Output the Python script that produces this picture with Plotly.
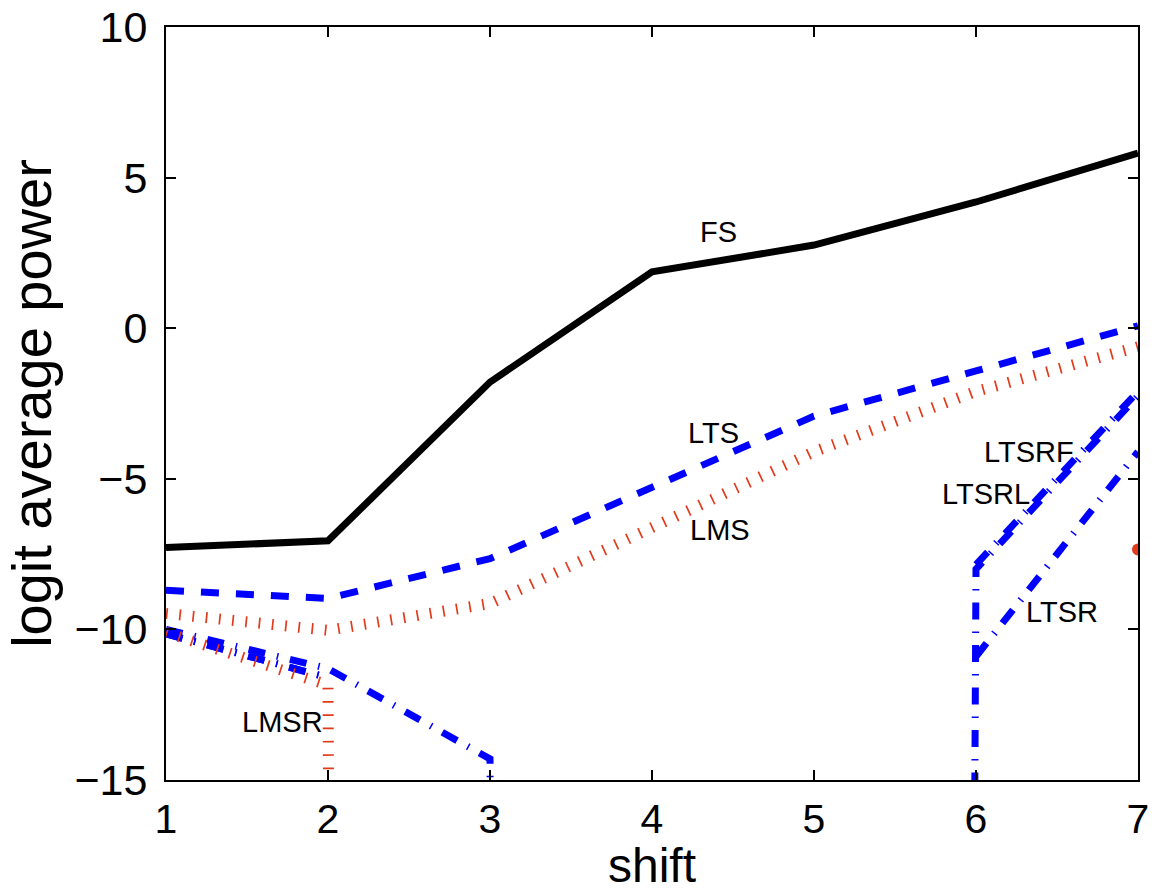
import plotly.graph_objects as go

# ---- data ----
shift = [1, 2, 3, 4, 5, 6, 7]
NEG = -1000  # stands for logit(0) = -inf (drawn off the bottom of the axes)

fs = [-7.28, -7.06, -1.79, 1.87, 2.76, 4.19, 5.81]
lts = [-8.7, -8.97, -7.65, -5.27, -2.92, -1.42, 0.08]
lms = [-9.47, -10.03, -9.14, -6.65, -4.1, -2.1, -0.62]
lmsr = [-10.1, -11.85, NEG, None, None, None, -7.35]
ltsr = [-10.0, -11.3, -14.3, NEG, None, -10.9, -4.1]
ltsrl = [-10.15, -11.6, None, None, NEG, -8.0, -2.25]
ltsrf = [-10.15, -11.6, None, None, None, -7.85, -2.1]

labels = ["FS", "LTS", "LMS", "LMSR", "LTSRF", "LTSRL", "LTSR"]
label_x = [4.41, 4.38, 4.42, 1.72, 6.33, 6.06, 6.53]
label_y = [3.19, -3.49, -6.71, -13.09, -4.12, -5.51, -9.43]

xticks = [1, 2, 3, 4, 5, 6, 7]
yticks = [-15, -10, -5, 0, 5, 10]

BLUE = "#0000ff"
RED = "#e23a1a"
DASHDOT = "17px,12px,1.5px,12px"
DOTTED = "1.7px,11.6px"
FONT = "Liberation Sans, Arial, sans-serif"

fig = go.Figure()
fig.add_trace(go.Scatter(x=shift, y=fs, mode="lines", line=dict(color="black", width=7), name="FS"))
fig.add_trace(go.Scatter(x=shift, y=lts, mode="lines", line=dict(color=BLUE, width=7, dash="18px,17px"), name="LTS"))
for name, ys in [("LTSRF", ltsrf), ("LTSRL", ltsrl), ("LTSR", ltsr)]:
    fig.add_trace(go.Scatter(x=shift, y=ys, mode="lines", connectgaps=False,
                             line=dict(color=BLUE, width=7, dash=DASHDOT), name=name))
fig.add_trace(go.Scatter(x=shift, y=lms, mode="lines", line=dict(color=RED, width=11, dash=DOTTED), name="LMS"))
fig.add_trace(go.Scatter(x=shift, y=lmsr, mode="lines", connectgaps=False,
                         line=dict(color=RED, width=11, dash=DOTTED), name="LMSR"))
# isolated LMSR value at the last shift
fig.add_trace(go.Scatter(x=[shift[-1]], y=[lmsr[-1]], mode="markers",
                         marker=dict(color=RED, size=12), name="LMSR point"))

for t, x, y in zip(labels, label_x, label_y):
    fig.add_annotation(x=x, y=y, text=t, showarrow=False,
                       font=dict(family=FONT, size=29, color="black"))

axis_common = dict(
    showline=True, linecolor="black", linewidth=2, mirror="ticks",
    ticks="inside", ticklen=10, tickwidth=1.5, tickcolor="black",
    showgrid=False, zeroline=False, automargin=False,
    ticklabeloverflow="allow",
    tickfont=dict(family=FONT, size=43, color="black"),
)
fig.update_xaxes(range=[1, 7], tickvals=xticks, ticktext=[str(v) for v in xticks],
                 title=dict(text="shift", standoff=2,
                            font=dict(family=FONT, size=48, color="black")),
                 ticklabelstandoff=2, **axis_common)
fig.update_xaxes(tickfont=dict(family=FONT, size=41, color="black"))
fig.update_yaxes(range=[-15, 10], tickvals=yticks,
                 title=dict(text="logit average power", standoff=8,
                            font=dict(family=FONT, size=56, color="black")),
                 ticklabelstandoff=8, **axis_common)

fig.update_layout(width=1156, height=892, showlegend=False,
                  margin=dict(l=166, r=18, t=27, b=112),
                  plot_bgcolor="white", paper_bgcolor="white")

fig.write_html("out.html", config={"displayModeBar": False},
               post_script="document.body.style.margin='0px';document.body.style.overflow='hidden';")
